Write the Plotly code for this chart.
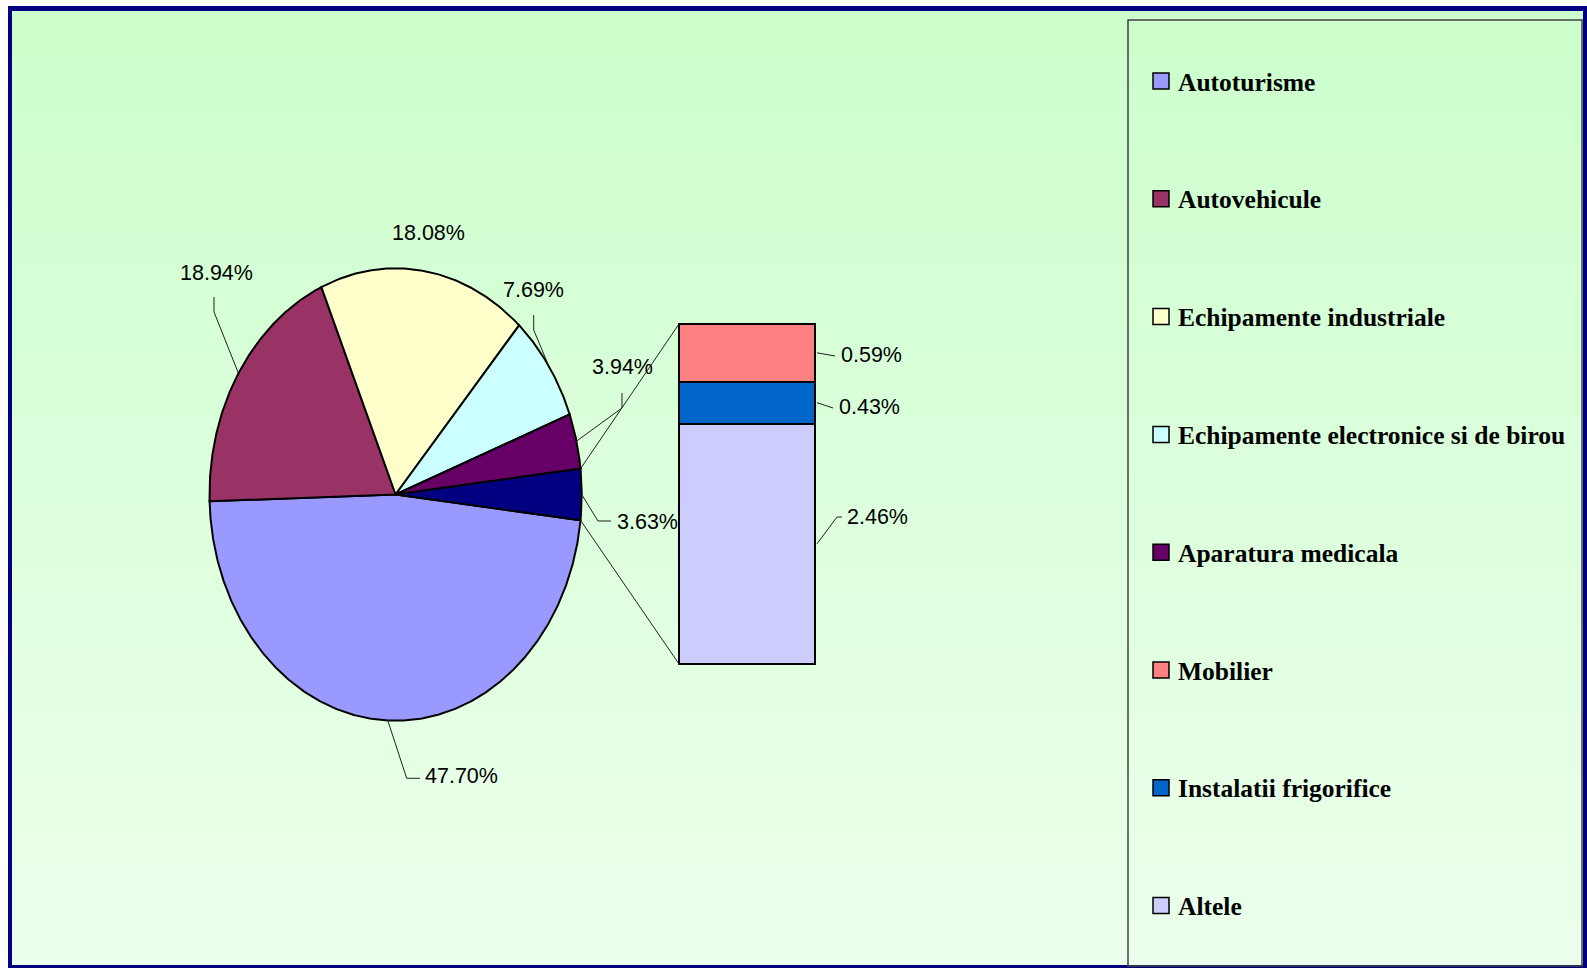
import base64
import struct
import zlib

import numpy as np
import plotly.graph_objects as go

# ---------------- data ----------------
pie_labels = ["Autoturisme", "Autovehicule", "Echipamente industriale",
              "Echipamente electronice si de birou", "Aparatura medicala"]
pie_values = [47.70, 18.94, 18.08, 7.69, 3.94]
pie_colors = ["#9999FF", "#993366", "#FFFFCC", "#CCFFFF", "#660066"]

other_label = "Alte categorii"
other_value = 3.63
other_color = "#000080"

bar_labels = ["Mobilier", "Instalatii frigorifice", "Altele"]
bar_values = [0.59, 0.43, 2.46]
bar_colors = ["#FF8080", "#0066CC", "#CCCCFF"]

# ---------------- layout helpers ----------------
W, H = 1587, 968


def px(x):
    return x / W


def py(y):
    return 1 - y / H


CX, CY, RX, RY = 395.6, 494.5, 186.1, 226.2   # pie ellipse (pixels)
PAD = 1.03
BX0, BX1, BY0, BY1 = 679, 815, 324, 664          # bar box (pixels)

fig = go.Figure()

# ---------------- pie (ellipse) ----------------
total = sum(pie_values) + other_value
deg = 360.0 / total
angle = 360.0 - other_value * deg / 2.0
mids = []
edges = []
for lab, v, col in list(zip(pie_labels, pie_values, pie_colors)) + [(other_label, other_value, other_color)]:
    a0 = angle
    a1 = angle - v * deg
    n = max(int(abs(a0 - a1) * 2), 6)
    t = np.radians(np.linspace(a0, a1, n))
    xs = np.concatenate([[0], np.cos(t), [0]])
    ys = np.concatenate([[0], np.sin(t), [0]])
    fig.add_trace(go.Scatter(
        x=xs, y=ys, mode="lines", fill="toself", fillcolor=col,
        line=dict(color="black", width=2), name=lab, showlegend=False,
        hoverinfo="text", hoveron="fills", text=f"{lab}: {v:.2f}%",
        xaxis="x", yaxis="y"))
    mids.append((a0 + a1) / 2.0)
    edges.append((a0, a1))
    angle = a1


def pie_pt(a, r=1.0):
    return (CX + RX * r * np.cos(np.radians(a)), CY - RY * r * np.sin(np.radians(a)))


# ---------------- stacked bar ----------------
bar_total = sum(bar_values)
k = (BY1 - BY0) / bar_total
for lab, v, col in reversed(list(zip(bar_labels, bar_values, bar_colors))):
    fig.add_trace(go.Bar(
        x=[0], y=[v], width=1, name=lab, marker=dict(color=col, line=dict(color="black", width=2)),
        showlegend=False, xaxis="x2", yaxis="y2", hovertemplate=f"{lab}: {v:.2f}%<extra></extra>"))

bar_mid = {}
acc = 0.0
for lab, v in zip(bar_labels, bar_values):
    bar_mid[lab] = BY0 + (acc + v / 2.0) * k
    acc += v

# ---------------- background gradient image ----------------
top_c = np.array([204, 255, 204])
bot_c = np.array([236, 255, 236])
NG = 256


def _chunk(tag, data):
    c = struct.pack(">I", len(data)) + tag + data
    return c + struct.pack(">I", zlib.crc32(tag + data) & 0xFFFFFFFF)


raw = b""
for i in range(NG):
    f = i / (NG - 1)
    c = (top_c + (bot_c - top_c) * f).round().astype(int)
    raw += b"\x00" + bytes([int(c[0]), int(c[1]), int(c[2])])
png = (b"\x89PNG\r\n\x1a\n" + _chunk(b"IHDR", struct.pack(">IIBBBBB", 1, NG, 8, 2, 0, 0, 0))
       + _chunk(b"IDAT", zlib.compress(raw)) + _chunk(b"IEND", b""))
grad_src = "data:image/png;base64," + base64.b64encode(png).decode()

images = [dict(source=grad_src, xref="paper", yref="paper", x=px(12), y=py(11),
               sizex=px(1583) - px(12), sizey=(965 - 11) / H, xanchor="left", yanchor="top",
               sizing="stretch", layer="below")]

# ---------------- shapes ----------------
shapes = []


def rect(x0, y0, x1, y1, fill, layer="below", line=None):
    return dict(type="rect", xref="paper", yref="paper", x0=px(x0), x1=px(x1), y0=py(y1), y1=py(y0),
                fillcolor=fill, line=line or dict(width=0), layer=layer)


# navy frame (four sides)
NAVY = "#000080"
shapes.append(rect(8, 6, 1587, 11, NAVY))
shapes.append(rect(8, 6, 12, 968, NAVY))
shapes.append(rect(1583, 6, 1587, 968, NAVY))
shapes.append(rect(8, 965, 1587, 968, NAVY))
# legend box
shapes.append(dict(type="rect", xref="paper", yref="paper", x0=px(1128), x1=px(1582), y0=py(966), y1=py(20),
                   fillcolor="rgba(0,0,0,0)", line=dict(color="#404040", width=1.5), layer="below"))


def path(points):
    s = "M " + " L ".join(f"{px(x):.6f},{py(y):.6f}" for x, y in points)
    return dict(type="path", xref="paper", yref="paper", path=s,
                line=dict(color="#202020", width=1), layer="above")


# connector lines pie -> bar
oa0, oa1 = edges[-1]
shapes.append(path([pie_pt(oa0), (BX0, BY0)]))
shapes.append(path([pie_pt(oa1), (BX0, BY1)]))

# leader lines
m = mids
shapes.append(path([pie_pt(m[0]), (406.7, 778.3), (420, 778.3)]))           # 47.70
shapes.append(path([(214, 297), (214, 312), pie_pt(m[1])]))                 # 18.94
shapes.append(path([(533.7, 315), (533.7, 330), pie_pt(m[3])]))             # 7.69
shapes.append(path([(622, 393), (622, 408), pie_pt(m[4])]))                 # 3.94
shapes.append(path([pie_pt(m[5]), (598, 521), (611, 521)]))                 # 3.63
shapes.append(path([(BX1 + 2, bar_mid["Mobilier"]), (835, 356)]))
shapes.append(path([(BX1 + 2, bar_mid["Instalatii frigorifice"]), (833, 408)]))
shapes.append(path([(BX1 + 2, bar_mid["Altele"]), (837, 517), (842, 517)]))

# ---------------- annotations ----------------
lab_font = dict(family="Liberation Sans, Arial, sans-serif", size=21.5, color="black")
ann = []


def add_lab(text, x, y, xanchor="center"):
    ann.append(dict(text=text, x=px(x), y=py(y), xref="paper", yref="paper", showarrow=False,
                    xanchor=xanchor, yanchor="middle", font=lab_font))


pie_label_pos = [(423, 776, "left"), (216, 273, "center"), (428, 233, "center"),
                 (533.5, 290, "center"), (622.5, 367, "center"), (615, 522, "left")]
all_pie_vals = pie_values + [other_value]
for v, (x, y, xa) in zip(all_pie_vals, pie_label_pos):
    add_lab(f"{v:.2f}%", x, y, xa)

bar_label_pos = [(839, 355), (837, 407), (845, 517)]
for v, (x, y) in zip(bar_values, bar_label_pos):
    add_lab(f"{v:.2f}%", x, y, "left")

# custom legend
leg_names = pie_labels + bar_labels
leg_colors = pie_colors + bar_colors
for i, (nm, col) in enumerate(zip(leg_names, leg_colors)):
    yc = 81 + 117.8 * i
    shapes.append(dict(type="rect", xref="paper", yref="paper", x0=px(1153), x1=px(1169),
                       y0=py(yc + 8), y1=py(yc - 8), fillcolor=col,
                       line=dict(color="black", width=1.5), layer="above"))
    ann.append(dict(text=f"<b>{nm}</b>", x=px(1176), y=py(yc + 1), xref="paper", yref="paper",
                    showarrow=False, xanchor="left", yanchor="middle",
                    font=dict(family="Liberation Serif, Times New Roman, serif", size=25.5, color="black")))

fig.update_layout(
    width=W, height=H, margin=dict(l=0, r=0, t=0, b=0),
    paper_bgcolor="white", plot_bgcolor="rgba(0,0,0,0)",
    showlegend=False, barmode="stack", bargap=0,
    xaxis=dict(domain=[px(CX - RX * PAD), px(CX + RX * PAD)], range=[-PAD, PAD], visible=False,
               fixedrange=True, anchor="y"),
    yaxis=dict(domain=[py(CY + RY * PAD), py(CY - RY * PAD)], range=[-PAD, PAD], visible=False,
               fixedrange=True, anchor="x"),
    xaxis2=dict(domain=[px(BX0 - 2), px(BX1 + 2)],
                range=[-0.5 - 2 / (BX1 - BX0), 0.5 + 2 / (BX1 - BX0)],
                visible=False, fixedrange=True, anchor="y2"),
    yaxis2=dict(domain=[py(BY1 + 2), py(BY0 - 2)], range=[-2 / k, bar_total + 2 / k],
                visible=False, fixedrange=True, anchor="x2"),
    shapes=shapes, annotations=ann, images=images,
)

fig.write_html("out.html", config={"displayModeBar": False},
               post_script="document.body.style.margin='0';document.body.style.overflow='hidden';")
